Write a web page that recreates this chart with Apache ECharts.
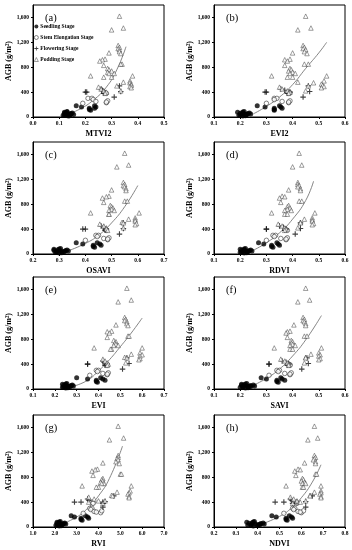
<!DOCTYPE html>
<html><head><meta charset="utf-8">
<script src="https://cdn.jsdelivr.net/npm/echarts@6/dist/echarts.min.js"></script>
<style>html,body{margin:0;padding:0;background:#fff}#c{width:352px;height:550px}</style>
</head><body><div id="c"></div>
<script>
// ---- AGB values (g/m2) by growth stage ----
const agbSeedling = [60,40,80,30,50,20,70,45,55,25,35,65,90,15,75,50,40, 180,160,140,120,110,180,160,140];
const agbStem     = [220,300,300,280,250,230,260,240,400,390,380];
const agbFlower   = [400,410,320,500,400,380,430,450,400];
const agbPod      = [1620,1430,1400,1150,1120,1100,1080,1050,1030,1020,930,920,900,850,850,830,780,760,740,720,700,700,660,660,640,640,580,560,550,530,510,490,470,480,450,420,400,380,420,500];

const yTickLabels = ['0','400','800','1,200','1,600'];
const stageNames = ['Seedling Stage','Stem Elongation Stage','Flowering Stage','Podding Stage'];
const panelTags = ['(a)','(b)','(c)','(d)','(e)','(f)','(g)','(h)'];
const indexNames = ['MTVI2','EVI2','OSAVI','RDVI','EVI','SAVI','RVI','NDVI'];

// ---- x tick labels per panel ----
const xTicks_MTVI2 = ['0.0','0.1','0.2','0.3','0.4','0.5'];
const xTicks_EVI2  = ['0.1','0.2','0.3','0.4','0.5','0.6'];
const xTicks_OSAVI = ['0.2','0.3','0.4','0.5','0.6','0.7'];
const xTicks_RDVI  = ['0.1','0.2','0.3','0.4','0.5','0.6'];
const xTicks_EVI   = ['0.1','0.2','0.3','0.4','0.5','0.6','0.7'];
const xTicks_SAVI  = ['0.1','0.2','0.3','0.4','0.5','0.6'];
const xTicks_RVI   = ['1.0','2.0','3.0','4.0','5.0','6.0','7.0'];
const xTicks_NDVI  = ['0.2','0.3','0.4','0.5','0.6','0.7','0.8'];

// ---- MTVI2 ----
const MTVI2_seed = [0.12,0.125,0.13,0.115,0.135,0.14,0.125,0.13,0.145,0.12,0.14,0.15,0.13,0.135,0.12,0.145,0.155, 0.165,0.185,0.215,0.215,0.22,0.235,0.24,0.235];
const MTVI2_stem = [0.19,0.21,0.225,0.23,0.24,0.28,0.285,0.28,0.27,0.275,0.28];
const MTVI2_flow = [0.20,0.335,0.31,0.33,0.27,0.27,0.265,0.26,0.205];
const MTVI2_pod  = [0.33,0.345,0.30,0.325,0.33,0.325,0.33,0.33,0.29,0.335,0.275,0.265,0.255,0.34,0.335,0.27,0.285,0.29,0.30,0.285,0.29,0.31,0.22,0.38,0.30,0.27,0.37,0.345,0.37,0.375,0.375,0.37,0.375,0.25,0.26,0.27,0.28,0.275,0.335,0.32];
const MTVI2_fitX = [0.13,0.18,0.23,0.28,0.32,0.355];
const MTVI2_fitY = [40,130,270,480,760,1130];
// ---- EVI2 ----
const EVI2_seed = [0.20,0.205,0.21,0.195,0.215,0.22,0.21,0.225,0.23,0.20,0.22,0.235,0.215,0.21,0.19,0.24,0.225, 0.265,0.295,0.33,0.33,0.33,0.35,0.355,0.36];
const EVI2_stem = [0.30,0.33,0.34,0.33,0.36,0.385,0.39,0.385,0.385,0.39,0.385];
const EVI2_flow = [0.30,0.465,0.44,0.46,0.39,0.38,0.37,0.355,0.295];
const EVI2_pod  = [0.45,0.47,0.42,0.44,0.445,0.44,0.45,0.445,0.40,0.455,0.39,0.37,0.38,0.445,0.46,0.37,0.39,0.395,0.385,0.40,0.39,0.41,0.32,0.53,0.40,0.38,0.52,0.42,0.48,0.51,0.515,0.52,0.51,0.35,0.36,0.38,0.39,0.385,0.45,0.46];
const EVI2_fitX = [0.25,0.30,0.35,0.40,0.45,0.50,0.53];
const EVI2_fitY = [50,170,320,520,780,1030,1200];
// ---- OSAVI ----
const OSAVI_seed = [0.28,0.29,0.30,0.285,0.305,0.31,0.295,0.32,0.325,0.29,0.31,0.33,0.305,0.30,0.28,0.335,0.32, 0.365,0.39,0.43,0.43,0.435,0.445,0.455,0.46];
const OSAVI_stem = [0.40,0.44,0.45,0.445,0.47,0.485,0.49,0.485,0.475,0.48,0.48];
const OSAVI_flow = [0.40,0.545,0.53,0.545,0.48,0.475,0.47,0.46,0.39];
const OSAVI_pod  = [0.55,0.565,0.52,0.545,0.55,0.545,0.55,0.555,0.50,0.555,0.49,0.48,0.465,0.55,0.56,0.47,0.495,0.50,0.505,0.50,0.49,0.51,0.42,0.605,0.49,0.49,0.59,0.565,0.59,0.59,0.54,0.595,0.59,0.455,0.47,0.48,0.48,0.485,0.545,0.545];
const OSAVI_fitX = [0.34,0.40,0.45,0.50,0.55,0.60];
const OSAVI_fitY = [60,170,300,500,760,1100];
// ---- RDVI ----
const RDVI_seed = [0.205,0.21,0.215,0.20,0.22,0.225,0.215,0.23,0.235,0.205,0.225,0.24,0.22,0.215,0.20,0.245,0.23, 0.27,0.29,0.32,0.32,0.325,0.34,0.345,0.35];
const RDVI_stem = [0.30,0.325,0.335,0.33,0.355,0.375,0.38,0.375,0.37,0.375,0.38];
const RDVI_flow = [0.30,0.43,0.41,0.43,0.375,0.37,0.365,0.35,0.30];
const RDVI_pod  = [0.425,0.435,0.40,0.42,0.42,0.425,0.42,0.43,0.385,0.43,0.36,0.37,0.35,0.425,0.435,0.355,0.385,0.38,0.39,0.38,0.37,0.395,0.32,0.485,0.37,0.38,0.475,0.445,0.475,0.475,0.43,0.48,0.475,0.345,0.36,0.37,0.375,0.37,0.42,0.43];
const RDVI_fitX = [0.25,0.30,0.35,0.40,0.45,0.48];
const RDVI_fitY = [60,180,340,560,860,1170];
// ---- EVI ----
const EVI_seed = [0.24,0.245,0.25,0.235,0.255,0.26,0.25,0.27,0.275,0.24,0.26,0.28,0.255,0.25,0.235,0.285,0.27, 0.30,0.35,0.39,0.39,0.395,0.41,0.42,0.43];
const EVI_stem = [0.36,0.39,0.40,0.395,0.42,0.44,0.445,0.44,0.43,0.44,0.44];
const EVI_flow = [0.35,0.54,0.51,0.53,0.44,0.43,0.425,0.42,0.35];
const EVI_pod  = [0.53,0.55,0.49,0.52,0.525,0.52,0.53,0.53,0.48,0.535,0.46,0.44,0.45,0.535,0.54,0.44,0.47,0.48,0.475,0.48,0.47,0.49,0.38,0.60,0.46,0.455,0.59,0.55,0.60,0.59,0.52,0.59,0.585,0.42,0.43,0.44,0.445,0.44,0.525,0.53];
const EVI_fitX = [0.29,0.35,0.40,0.45,0.50,0.55,0.60];
const EVI_fitY = [50,140,290,470,680,900,1140];
// ---- SAVI ----
const SAVI_seed = [0.205,0.21,0.22,0.20,0.225,0.23,0.215,0.235,0.24,0.21,0.23,0.25,0.225,0.22,0.205,0.255,0.24, 0.28,0.30,0.34,0.34,0.345,0.355,0.36,0.37];
const SAVI_stem = [0.31,0.34,0.35,0.345,0.37,0.39,0.395,0.39,0.385,0.39,0.39];
const SAVI_flow = [0.31,0.46,0.435,0.455,0.385,0.38,0.375,0.36,0.31];
const SAVI_pod  = [0.45,0.465,0.42,0.44,0.445,0.44,0.445,0.45,0.405,0.45,0.39,0.38,0.375,0.445,0.455,0.38,0.395,0.40,0.395,0.40,0.39,0.41,0.33,0.51,0.39,0.40,0.50,0.47,0.505,0.50,0.45,0.505,0.50,0.355,0.37,0.38,0.385,0.385,0.445,0.45];
const SAVI_fitX = [0.25,0.30,0.35,0.40,0.45,0.51];
const SAVI_fitY = [60,170,320,530,790,1180];
// ---- RVI ----
const RVI_seed = [2.1,2.15,2.2,2.05,2.25,2.3,2.2,2.35,2.4,2.1,2.3,2.45,2.25,2.2,2.1,2.5,2.35, 2.75,2.9,3.2,3.2,3.25,3.4,3.5,3.55];
const RVI_stem = [3.3,3.6,3.7,3.65,3.8,4.1,4.15,3.9,3.7,3.75,3.75];
const RVI_flow = [2.9,4.3,4.2,4.7,4.2,4.2,3.55,3.5,3.2];
const RVI_pod  = [4.9,5.15,4.5,4.9,4.9,4.85,4.9,4.8,4.2,4.95,3.95,3.85,3.7,5.0,5.05,3.75,4.2,4.15,4.2,4.1,4.25,4.15,3.25,5.5,4.0,3.9,5.45,4.85,5.4,5.35,4.6,5.4,5.4,3.55,3.8,4.0,3.55,4.2,4.3,4.65];
const RVI_fitX = [2.2,3.0,3.5,4.0,4.5,5.1];
const RVI_fitY = [30,160,300,500,780,1300];
// ---- NDVI ----
const NDVI_seed = [0.36,0.37,0.38,0.355,0.39,0.40,0.375,0.41,0.415,0.37,0.40,0.425,0.385,0.38,0.35,0.43,0.41, 0.465,0.485,0.53,0.53,0.535,0.545,0.555,0.56];
const NDVI_stem = [0.52,0.56,0.57,0.565,0.585,0.60,0.61,0.595,0.575,0.58,0.58];
const NDVI_flow = [0.48,0.62,0.62,0.65,0.58,0.56,0.555,0.55,0.52];
const NDVI_pod  = [0.66,0.675,0.63,0.66,0.665,0.66,0.655,0.665,0.615,0.665,0.585,0.595,0.57,0.665,0.67,0.575,0.605,0.61,0.60,0.615,0.605,0.62,0.53,0.69,0.605,0.61,0.69,0.66,0.69,0.685,0.64,0.69,0.69,0.55,0.565,0.58,0.595,0.56,0.62,0.64];
const NDVI_fitX = [0.42,0.50,0.55,0.60,0.65,0.69];
const NDVI_fitY = [50,170,290,470,720,1000];

const panelData = [
  [xTicks_MTVI2, MTVI2_seed, MTVI2_stem, MTVI2_flow, MTVI2_pod, MTVI2_fitX, MTVI2_fitY],
  [xTicks_EVI2, EVI2_seed, EVI2_stem, EVI2_flow, EVI2_pod, EVI2_fitX, EVI2_fitY],
  [xTicks_OSAVI, OSAVI_seed, OSAVI_stem, OSAVI_flow, OSAVI_pod, OSAVI_fitX, OSAVI_fitY],
  [xTicks_RDVI, RDVI_seed, RDVI_stem, RDVI_flow, RDVI_pod, RDVI_fitX, RDVI_fitY],
  [xTicks_EVI, EVI_seed, EVI_stem, EVI_flow, EVI_pod, EVI_fitX, EVI_fitY],
  [xTicks_SAVI, SAVI_seed, SAVI_stem, SAVI_flow, SAVI_pod, SAVI_fitX, SAVI_fitY],
  [xTicks_RVI, RVI_seed, RVI_stem, RVI_flow, RVI_pod, RVI_fitX, RVI_fitY],
  [xTicks_NDVI, NDVI_seed, NDVI_stem, NDVI_flow, NDVI_pod, NDVI_fitX, NDVI_fitY]
];

// ---- layout ----
const colLeft = [33, 214];
const rowTop = [5, 142, 277, 415];
const plotW = 131, plotH = 112;
const FONT = 'Liberation Serif';
const PLUS = 'path://M-0.8,-4H0.8V-0.8H4V0.8H0.8V4H-0.8V0.8H-4V-0.8H-0.8Z';
const styleSeed = {color: '#000'};
const styleStem = {color: '#fff', borderColor: '#222', borderWidth: 0.7};
const styleFlow = {color: '#111'};
const stylePod  = {color: '#fff', borderColor: '#333', borderWidth: 0.6};

const grids = [], xAxes = [], yAxes = [], series = [], titles = [];
panelData.forEach((p, i) => {
  const col = i % 2, row = Math.floor(i / 2);
  const [ticks, seed, stem, flow, pod, fx, fy] = p;
  const lo = parseFloat(ticks[0]), hi = parseFloat(ticks[ticks.length - 1]);
  const step = parseFloat(ticks[1]) - lo;
  grids.push({left: colLeft[col], top: rowTop[row], width: plotW, height: plotH,
    show: true, borderColor: '#000', borderWidth: 1, backgroundColor: 'transparent'});
  xAxes.push({type: 'value', gridIndex: i, min: lo, max: hi, interval: step,
    name: indexNames[i], nameLocation: 'middle', nameGap: 13,
    nameTextStyle: {fontFamily: FONT, fontWeight: 'bold', fontSize: 8, color: '#000'},
    axisLine: {show: true, lineStyle: {color: '#000', width: 1}},
    axisTick: {show: true, length: 2, lineStyle: {color: '#000'}},
    splitLine: {show: false},
    axisLabel: {fontFamily: FONT, fontWeight: 'bold', fontSize: 5.5, color: '#000', margin: 4,
      formatter: v => ticks[Math.round((v - lo) / step)] || ''}});
  yAxes.push({type: 'value', gridIndex: i, min: 0, max: 1800, interval: 400,
    name: 'AGB (g/m²)', nameLocation: 'middle', nameGap: 18, nameRotate: 90,
    nameTextStyle: {fontFamily: FONT, fontWeight: 'bold', fontSize: 8, color: '#000'},
    axisLine: {show: true, lineStyle: {color: '#000', width: 1}},
    axisTick: {show: true, length: 2, lineStyle: {color: '#000'}},
    splitLine: {show: false},
    axisLabel: {fontFamily: FONT, fontWeight: 'bold', fontSize: 5.5, color: '#000', margin: 4, showMaxLabel: false,
      formatter: v => yTickLabels[Math.round(v / 400)] || ''}});
  titles.push({text: panelTags[i], left: colLeft[col] + 7, top: rowTop[row] + 3,
    textStyle: {fontFamily: FONT, fontWeight: 'normal', fontSize: 10.5, color: '#000'}});
  const base = {type: 'scatter', xAxisIndex: i, yAxisIndex: i, silent: true};
  series.push(Object.assign({}, base, {name: stageNames[0], symbol: 'circle', symbolSize: 5,
    itemStyle: styleSeed, data: seed.map((x, k) => [x, agbSeedling[k]])}));
  series.push(Object.assign({}, base, {name: stageNames[1], symbol: 'circle', symbolSize: 4.5,
    itemStyle: styleStem, data: stem.map((x, k) => [x, agbStem[k]])}));
  series.push(Object.assign({}, base, {name: stageNames[2], symbol: PLUS, symbolSize: 5.5,
    itemStyle: styleFlow, data: flow.map((x, k) => [x, agbFlower[k]])}));
  series.push(Object.assign({}, base, {name: stageNames[3], symbol: 'triangle', symbolSize: 4.5,
    itemStyle: stylePod, data: pod.map((x, k) => [x, agbPod[k]])}));
  series.push({type: 'line', xAxisIndex: i, yAxisIndex: i, silent: true, smooth: true, showSymbol: false,
    lineStyle: {color: '#777', width: 0.9}, data: fx.map((x, k) => [x, fy[k]]), z: 1});
});

const chart = echarts.init(document.getElementById('c'), null, {renderer: 'canvas'});
chart.setOption({
  animation: false,
  backgroundColor: '#fff',
  title: titles,
  legend: {
    data: [
      {name: stageNames[0], icon: 'circle', itemStyle: styleSeed},
      {name: stageNames[1], icon: 'circle', itemStyle: styleStem},
      {name: stageNames[2], icon: PLUS, itemStyle: styleFlow},
      {name: stageNames[3], icon: 'triangle', itemStyle: stylePod}
    ],
    orient: 'vertical', left: 34, top: 23, itemWidth: 4, itemHeight: 4, itemGap: 4, padding: 0,
    textStyle: {fontFamily: FONT, fontWeight: 'bold', fontSize: 5.5, lineHeight: 7, color: '#000', padding: [0, 0, 0, -3]},
    selectedMode: false},
  grid: grids, xAxis: xAxes, yAxis: yAxes, series: series
});
</script></body></html>
